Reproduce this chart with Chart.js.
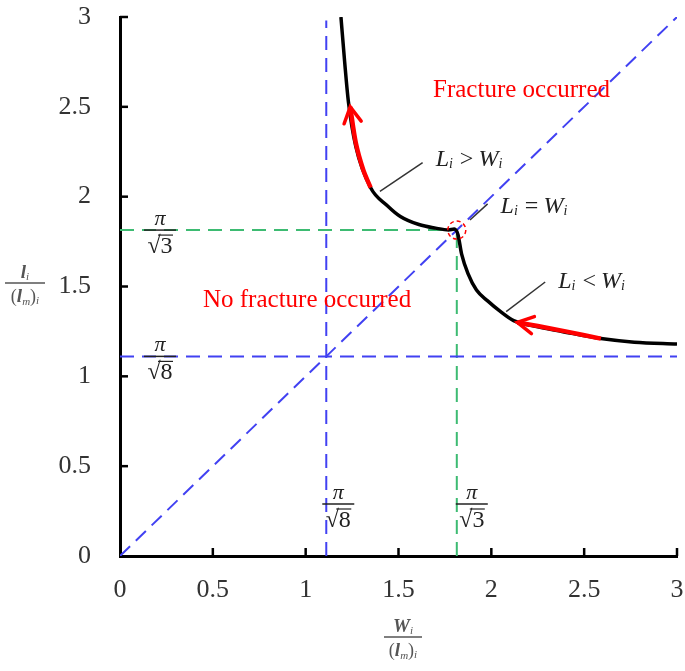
<!DOCTYPE html>
<html>
<head>
<meta charset="utf-8">
<script src="https://cdn.jsdelivr.net/npm/chart.js@4.4.1/dist/chart.umd.min.js"></script>
<style>
  html, body { margin: 0; padding: 0; background: #fff; }
</style>
</head>
<body>
<canvas id="chart" width="685" height="671"></canvas>
<script>
const xTicks = [0, 0.5, 1, 1.5, 2, 2.5, 3];
const yTicks = [0, 0.5, 1, 1.5, 2, 2.5, 3];

// pi/sqrt(8) and pi/sqrt(3)
const limitLow = 1.111;
const limitHigh = 1.814;

// black failure curve
const curveX = [1.19, 1.21, 1.23, 1.27, 1.35, 1.44, 1.51, 1.61, 1.70, 1.77, 1.80, 1.82, 1.84, 1.875, 1.92, 1.98, 2.05, 2.12, 2.23, 2.38, 2.59, 2.77, 3.0];
const curveY = [3.0, 2.75, 2.53, 2.28, 2.05, 1.95, 1.89, 1.845, 1.825, 1.815, 1.82, 1.79, 1.68, 1.57, 1.48, 1.42, 1.36, 1.31, 1.28, 1.25, 1.21, 1.19, 1.18];

// red arrow segments (tip is the first point)
const arrowUpX = [1.24, 1.27, 1.31, 1.35];
const arrowUpY = [2.50, 2.30, 2.15, 2.05];
const arrowLowX = [2.14, 2.25, 2.40, 2.59];
const arrowLowY = [1.30, 1.28, 1.25, 1.21];

// leader lines for the L/W labels
const leaderGreaterX = [1.40, 1.63];
const leaderGreaterY = [2.03, 2.19];
const leaderEqualX = [1.885, 1.98];
const leaderEqualY = [1.87, 1.96];
const leaderLessX = [2.08, 2.29];
const leaderLessY = [1.36, 1.525];

const zip = (xs, ys) => xs.map((x, i) => ({ x, y: ys[i] }));

const BLUE = "#4141f2";
const GREEN = "#3dbb72";
const RED = "#ff0000";
const SERIF = "'Liberation Serif', 'DejaVu Serif', serif";

function dashed(data, color) {
  return {
    data,
    showLine: true,
    borderColor: color,
    borderWidth: 2,
    borderDash: [14, 8],
    pointRadius: 0,
    order: 5
  };
}

function leader(data) {
  return { data, showLine: true, borderColor: "#333", borderWidth: 1.5, pointRadius: 0, order: 3 };
}

// draw a run of text pieces (for subscripts)
function drawRich(ctx, x, y, parts, color) {
  ctx.save();
  ctx.fillStyle = color;
  ctx.textAlign = "left";
  ctx.textBaseline = "alphabetic";
  let cx = x;
  parts.forEach(p => {
    ctx.font = p.font;
    ctx.fillText(p.text, cx, y + (p.dy || 0));
    cx += ctx.measureText(p.text).width + (p.gap || 0);
  });
  ctx.restore();
  return cx - x;
}

function richWidth(ctx, parts) {
  let w = 0;
  parts.forEach(p => {
    ctx.font = p.font;
    w += ctx.measureText(p.text).width + (p.gap || 0);
  });
  return w;
}

function drawFraction(ctx, cx, barY, num, den, barW, color, denDrop) {
  ctx.save();
  const nw = richWidth(ctx, num);
  const dw = richWidth(ctx, den);
  drawRich(ctx, cx - nw / 2, barY - 5, num, color);
  drawRich(ctx, cx - dw / 2, barY + (denDrop || 20), den, color);
  ctx.strokeStyle = color;
  ctx.lineWidth = 1.5;
  ctx.beginPath();
  ctx.moveTo(cx - barW / 2, barY);
  ctx.lineTo(cx + barW / 2, barY);
  ctx.stroke();
  ctx.restore();
}

function piOverRoot(ctx, cx, barY, n) {
  const num = [{ text: "π", font: `italic 22px ${SERIF}` }];
  const den = [{ text: "√", font: `24px ${SERIF}` }, { text: n, font: `24px ${SERIF}` }];
  drawFraction(ctx, cx, barY, num, den, 32, "#222", 23);
  // radical overline
  ctx.save();
  ctx.strokeStyle = "#222";
  ctx.lineWidth = 1.2;
  ctx.beginPath();
  ctx.moveTo(cx - 2, barY + 5);
  ctx.lineTo(cx + 13, barY + 5);
  ctx.stroke();
  ctx.restore();
}

function relation(sign) {
  const big = `italic 24px ${SERIF}`;
  const sub = `italic 14px ${SERIF}`;
  return [
    { text: "L", font: big },
    { text: "i", font: sub, dy: 2, gap: 7 },
    { text: sign, font: `24px ${SERIF}`, gap: 5 },
    { text: "W", font: big },
    { text: "i", font: sub, dy: 2 }
  ];
}

function drawArrowHead(ctx, x, y, tip, from) {
  const tx = x.getPixelForValue(tip.x), ty = y.getPixelForValue(tip.y);
  const fx = x.getPixelForValue(from.x), fy = y.getPixelForValue(from.y);
  const ang = Math.atan2(ty - fy, tx - fx);
  const len = 18, spread = 0.5;
  ctx.save();
  ctx.strokeStyle = RED;
  ctx.lineWidth = 3.5;
  ctx.lineCap = "round";
  ctx.beginPath();
  ctx.moveTo(tx - len * Math.cos(ang - spread), ty - len * Math.sin(ang - spread));
  ctx.lineTo(tx, ty);
  ctx.lineTo(tx - len * Math.cos(ang + spread), ty - len * Math.sin(ang + spread));
  ctx.stroke();
  ctx.restore();
}

const decorations = {
  id: "decorations",
  afterDatasetsDraw(chart) {
    const { ctx, scales: { x, y }, chartArea } = chart;
    const px = v => x.getPixelForValue(v);
    const py = v => y.getPixelForValue(v);

    // inward tick marks
    ctx.save();
    ctx.strokeStyle = "#000";
    ctx.lineWidth = 2.5;
    xTicks.slice(1).forEach(v => {
      ctx.beginPath();
      ctx.moveTo(px(v), chartArea.bottom);
      ctx.lineTo(px(v), chartArea.bottom - 8);
      ctx.stroke();
    });
    yTicks.slice(1).forEach(v => {
      ctx.beginPath();
      ctx.moveTo(chartArea.left, py(v));
      ctx.lineTo(chartArea.left + 8, py(v));
      ctx.stroke();
    });
    ctx.restore();

    // dashed red circle at the equal point
    ctx.save();
    ctx.strokeStyle = RED;
    ctx.lineWidth = 1.5;
    ctx.setLineDash([4, 3]);
    ctx.beginPath();
    ctx.arc(px(limitHigh), py(limitHigh), 9, 0, Math.PI * 2);
    ctx.stroke();
    ctx.restore();

    drawArrowHead(ctx, x, y, zip(arrowUpX, arrowUpY)[0], zip(arrowUpX, arrowUpY)[1]);
    drawArrowHead(ctx, x, y, zip(arrowLowX, arrowLowY)[0], zip(arrowLowX, arrowLowY)[1]);

    // region labels
    ctx.save();
    ctx.fillStyle = RED;
    ctx.font = `25px ${SERIF}`;
    ctx.textBaseline = "middle";
    ctx.fillText("Fracture occurred", px(1.686), py(2.59));
    ctx.fillText("No fracture occurred", px(0.447), py(1.425));
    ctx.restore();

    drawRich(ctx, px(1.70), py(2.17), relation(">"), "#222");
    drawRich(ctx, px(2.05), py(1.91), relation("="), "#222");
    drawRich(ctx, px(2.36), py(1.49), relation("<"), "#222");

    // pi / sqrt labels
    piOverRoot(ctx, 160, py(limitHigh), "3");
    piOverRoot(ctx, 160, py(limitLow), "8");
    piOverRoot(ctx, px(limitLow) + 12, 504, "8");
    piOverRoot(ctx, px(limitHigh) + 15, 504, "3");

    // axis titles
    const it = `italic bold 19px ${SERIF}`;
    const sb = `italic 11px ${SERIF}`;
    const rp = `18px ${SERIF}`;
    drawFraction(ctx, 25, 283,
      [{ text: "l", font: it }, { text: "i", font: sb, dy: 2 }],
      [{ text: "(", font: rp }, { text: "l", font: it }, { text: "m", font: sb, dy: 3 }, { text: ")", font: rp }, { text: "i", font: sb, dy: 2 }],
      40, "#555", 19);
    drawFraction(ctx, 403, 637,
      [{ text: "W", font: it }, { text: "i", font: sb, dy: 2 }],
      [{ text: "(", font: rp }, { text: "l", font: it }, { text: "m", font: sb, dy: 3 }, { text: ")", font: rp }, { text: "i", font: sb, dy: 2 }],
      38, "#555", 19);
  }
};

new Chart(document.getElementById("chart"), {
  type: "scatter",
  data: {
    datasets: [
      dashed([{ x: 0, y: 0 }, { x: 3, y: 3 }], BLUE),
      dashed([{ x: limitLow, y: 0 }, { x: limitLow, y: 2.98 }], BLUE),
      dashed([{ x: 0, y: limitLow }, { x: 3, y: limitLow }], BLUE),
      dashed([{ x: 0, y: limitHigh }, { x: limitHigh, y: limitHigh }], GREEN),
      dashed([{ x: limitHigh, y: 0 }, { x: limitHigh, y: limitHigh }], GREEN),
      {
        data: zip(curveX, curveY),
        showLine: true,
        borderColor: "#000",
        borderWidth: 3.5,
        cubicInterpolationMode: "monotone",
        pointRadius: 0,
        order: 2
      },
      {
        data: zip(arrowUpX, arrowUpY),
        showLine: true,
        borderColor: RED,
        borderWidth: 4.5,
        tension: 0.3,
        pointRadius: 0,
        order: 1
      },
      {
        data: zip(arrowLowX, arrowLowY),
        showLine: true,
        borderColor: RED,
        borderWidth: 4.5,
        tension: 0.3,
        pointRadius: 0,
        order: 1
      },
      leader(zip(leaderGreaterX, leaderGreaterY)),
      leader(zip(leaderEqualX, leaderEqualY)),
      leader(zip(leaderLessX, leaderLessY))
    ]
  },
  options: {
    responsive: false,
    animation: false,
    devicePixelRatio: 1,
    layout: { padding: 0 },
    plugins: {
      legend: { display: false },
      tooltip: { enabled: false }
    },
    scales: {
      x: {
        type: "linear",
        min: 0,
        max: 3,
        grid: { display: false },
        border: { display: true, color: "#000", width: 3 },
        afterBuildTicks: s => { s.ticks = xTicks.map(v => ({ value: v })); },
        afterFit: s => { s.height = 115; s.paddingLeft = 0; s.paddingRight = 8; },
        ticks: { color: "#333", padding: 11, maxRotation: 0, callback: v => String(v), font: { family: SERIF, size: 26 } }
      },
      y: {
        type: "linear",
        min: 0,
        max: 3,
        grid: { display: false },
        border: { display: true, color: "#000", width: 3 },
        afterBuildTicks: s => { s.ticks = yTicks.map(v => ({ value: v })); },
        afterFit: s => { s.width = 120; s.paddingTop = 17; s.paddingBottom = 0; },
        ticks: { color: "#333", padding: 21, callback: v => String(v), font: { family: SERIF, size: 26 } }
      }
    }
  },
  plugins: [decorations]
});
</script>
</body>
</html>
